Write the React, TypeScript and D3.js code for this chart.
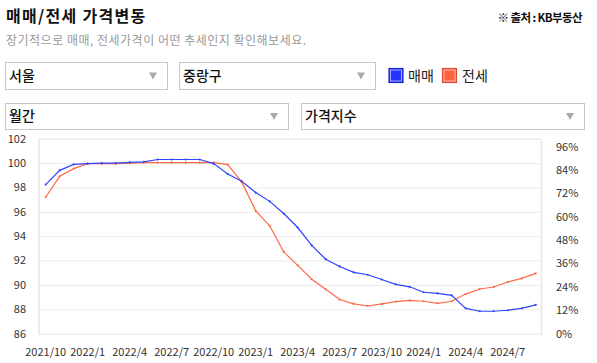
import React from "react";
import * as d3 from "d3";

const months = [
  "2021/10","2021/11","2021/12","2022/1","2022/2","2022/3","2022/4","2022/5","2022/6","2022/7","2022/8","2022/9",
  "2022/10","2022/11","2022/12","2023/1","2023/2","2023/3","2023/4","2023/5","2023/6","2023/7","2023/8","2023/9",
  "2023/10","2023/11","2023/12","2024/1","2024/2","2024/3","2024/4","2024/5","2024/6","2024/7","2024/8","2024/9",
];
const saleIndex = [
  98.28, 99.45, 99.94, 100.0, 100.05, 100.05, 100.1, 100.15, 100.34, 100.34, 100.34, 100.34,
  100.0, 99.15, 98.55, 97.62, 96.9, 95.9, 94.75, 93.28, 92.15, 91.55, 91.07, 90.87,
  90.48, 90.08, 89.88, 89.43, 89.34, 89.18, 88.11, 87.87, 87.87, 87.95, 88.11, 88.39,
];
const jeonseIndex = [
  97.26, 98.96, 99.59, 100.0, 100.0, 100.0, 100.05, 100.08, 100.08, 100.08, 100.08, 100.08,
  100.08, 99.92, 98.5, 96.12, 94.89, 92.75, 91.64, 90.5, 89.67, 88.83, 88.47, 88.3,
  88.47, 88.66, 88.77, 88.69, 88.52, 88.69, 89.28, 89.7, 89.86, 90.27, 90.57, 90.98,
];
const leftTicks = [86, 88, 90, 92, 94, 96, 98, 100, 102];
const rightTicks = [0, 12, 24, 36, 48, 60, 72, 84, 96];
const xTickLabels = ["2021/10","2022/1","2022/4","2022/7","2022/10","2023/1","2023/4","2023/7","2023/10","2024/1","2024/4","2024/7"];

const FONT = "'Noto Sans CJK KR', 'Noto Sans', sans-serif";
const BLUE = "#2f44ff";
const RED = "#ff6a4a";

function Dropdown({ x, y, w, h, label }: { x: number; y: number; w: number; h: number; label: string }) {
  const tx = x + w - 14;
  const ty = y + h / 2;
  return (
    <g>
      <rect x={x + 0.5} y={y + 0.5} width={w} height={h} fill="#fff" stroke="#c6c6cc" strokeWidth={1} />
      <text x={x + 4} y={ty + 5} fontSize={14} fontFamily={FONT} fontWeight={500} fill="#111">{label}</text>
      <path d={`M${tx - 4},${ty - 3} L${tx + 4},${ty - 3} L${tx},${ty + 4} Z`} fill="#aaa" />
    </g>
  );
}

export default function App() {
  const W = 597, H = 363;
  const x0 = 45.7, x1 = 535.7;
  const x = d3.scaleLinear().domain([0, months.length - 1]).range([x0, x1]);
  const y = d3.scaleLinear().domain([86, 102]).range([334, 139.3]);
  const yR = d3.scaleLinear().domain([0, 100]).range([334, 139.3]);
  const line = d3.line<number>().x((_, i) => x(i)).y((d) => y(d));
  const plotL = 39, plotR = 541.5;

  return (
    <svg width={W} height={H} style={{ position: "absolute", left: 0, top: 0, background: "#fff" }}>
      <text x={6} y={22} fontSize={16} fontWeight={700} fontFamily={FONT} fill="#111" letterSpacing={1.3}>매매/전세 가격변동</text>
      <text x={6} y={45} fontSize={12} fontFamily={FONT} fill="#999" letterSpacing={0.5}>장기적으로 매매, 전세가격이 어떤 추세인지 확인해보세요.</text>
      <text x={582} y={22} fontSize={11.5} fontWeight={700} fontFamily={FONT} fill="#111" textAnchor="end" letterSpacing={-0.6}>※ 출처 : KB부동산</text>

      <Dropdown x={5} y={62} w={162} h={27} label="서울" />
      <Dropdown x={179} y={62} w={196} h={27} label="중랑구" />
      <Dropdown x={5} y={103} w={283} h={26} label="월간" />
      <Dropdown x={301} y={103} w={283} h={26} label="가격지수" />

      <rect x={389} y={68.5} width={14} height={14} fill="#2233ff" stroke="#1a2ad0" strokeWidth={1.2} />
      <rect x={390.5} y={70} width={11} height={11} fill="none" stroke="#fff" strokeWidth={0.6} />
      <text x={408} y={80.5} fontSize={14} fontFamily={FONT} fill="#222">매매</text>
      <rect x={442.5} y={68.5} width={14} height={14} fill="#ff6040" stroke="#e04a30" strokeWidth={1.2} />
      <rect x={444} y={70} width={11} height={11} fill="none" stroke="#fff" strokeWidth={0.6} />
      <text x={462} y={80.5} fontSize={14} fontFamily={FONT} fill="#222">전세</text>

      {leftTicks.map((t) => (
        <line key={t} x1={plotL} x2={plotR} y1={y(t)} y2={y(t)} stroke="#ececec" strokeWidth={t === 86 || t === 102 ? 1.5 : 1} />
      ))}
      <line x1={plotL} x2={plotL} y1={y(102)} y2={y(86) + 1} stroke="#ececec" strokeWidth={2} />
      <line x1={plotR} x2={plotR} y1={y(102)} y2={y(86) + 1} stroke="#ececec" strokeWidth={2} />

      {leftTicks.map((t) => (
        <text key={t} x={26} y={y(t) + 3.5} fontSize={11} fontFamily={FONT} fill="#333" textAnchor="end">{t}</text>
      ))}
      {rightTicks.map((t) => (
        <text key={t} x={556} y={yR(t) + 3.5} fontSize={11} fontFamily={FONT} fill="#333">{t}%</text>
      ))}
      {xTickLabels.map((m) => (
        <text key={m} x={x(months.indexOf(m))} y={356} fontSize={11} fontFamily={FONT} fill="#333" textAnchor="middle">{m}</text>
      ))}

      <path d={line(jeonseIndex) || ""} fill="none" stroke={RED} strokeWidth={1.2} />
      <path d={line(saleIndex) || ""} fill="none" stroke={BLUE} strokeWidth={1.2} />
      {jeonseIndex.map((v, i) => (
        <circle key={"r" + i} cx={x(i)} cy={y(v)} r={1.1} fill={RED} />
      ))}
      {saleIndex.map((v, i) => (
        <circle key={"b" + i} cx={x(i)} cy={y(v)} r={1.1} fill={BLUE} />
      ))}
    </svg>
  );
}
